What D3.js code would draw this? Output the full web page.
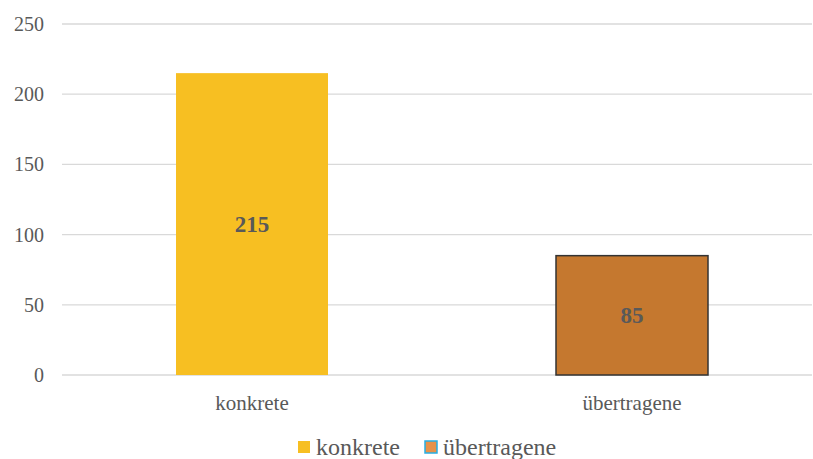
<!DOCTYPE html>
<html><head><meta charset="utf-8">
<script src="https://cdn.jsdelivr.net/npm/d3@7"></script>
<style>body{margin:0;background:#fff}svg{display:block}svg text{font-family:"Liberation Serif","Times New Roman",Times,serif !important}</style>
</head><body><svg id="c" width="813" height="459"></svg>
<script>
const categories = ["konkrete", "übertragene"];
const values = [215, 85];
const yTicks = [0, 50, 100, 150, 200, 250];
const legendLabels = ["konkrete", "übertragene"];

const svg = d3.select("#c");
const x = d3.scaleBand().domain(categories).range([62, 822]).paddingInner(0.6).paddingOuter(0.3);
const y = d3.scaleLinear().domain([0, 250]).range([375, 24]);

const grid = svg.append("g");
grid.selectAll("line").data(yTicks).join("line")
  .attr("x1", 62).attr("x2", 812)
  .attr("y1", d => y(d)).attr("y2", d => y(d))
  .attr("stroke", "#d9d9d9").attr("stroke-width", 1.3);

const yAxis = svg.append("g").attr("transform", "translate(44,0)")
  .call(d3.axisLeft(y).tickValues(yTicks).tickSize(0).tickPadding(0));
yAxis.select(".domain").remove();
yAxis.selectAll("text").attr("font-size", 20).attr("fill", "#595959");

const fills = ["#F7BF22", "#C5782F"];
const strokes = ["none", "#333"];
svg.selectAll("rect.bar").data(values).join("rect").attr("class", "bar")
  .attr("x", (d, i) => x(categories[i]))
  .attr("width", x.bandwidth())
  .attr("y", d => y(d))
  .attr("height", d => y(0) - y(d))
  .attr("fill", (d, i) => fills[i])
  .attr("stroke", (d, i) => strokes[i])
  .attr("stroke-width", 1.5);

svg.selectAll("text.val").data(values).join("text").attr("class", "val")
  .attr("x", (d, i) => x(categories[i]) + x.bandwidth() / 2)
  .attr("y", d => (y(d) + y(0)) / 2)
  .attr("dy", "0.35em")
  .attr("text-anchor", "middle")
  .attr("font-size", 23).attr("font-weight", "bold")
  .attr("fill", "#595959")
  .text(d => d);

const xAxis = svg.append("g").attr("transform", "translate(0,375)")
  .call(d3.axisBottom(x).tickSize(0).tickPadding(20));
xAxis.select(".domain").remove();
xAxis.selectAll("text").attr("font-size", 21).attr("fill", "#595959");

const leg = svg.append("g");
const legItems = [
  {x: 298, fill: "#F7BF22", stroke: "none"},
  {x: 425, fill: "#E8924A", stroke: "#27AEE4"}
];
legItems.forEach((it, i) => {
  leg.append("rect").attr("x", it.x).attr("y", 441).attr("width", 12).attr("height", 12)
    .attr("fill", it.fill).attr("stroke", it.stroke).attr("stroke-width", 1.5);
  leg.append("text").attr("x", it.x + 18).attr("y", 455)
    .attr("font-size", 24).attr("fill", "#595959")
    .text(legendLabels[i]);
});
</script></body></html>
